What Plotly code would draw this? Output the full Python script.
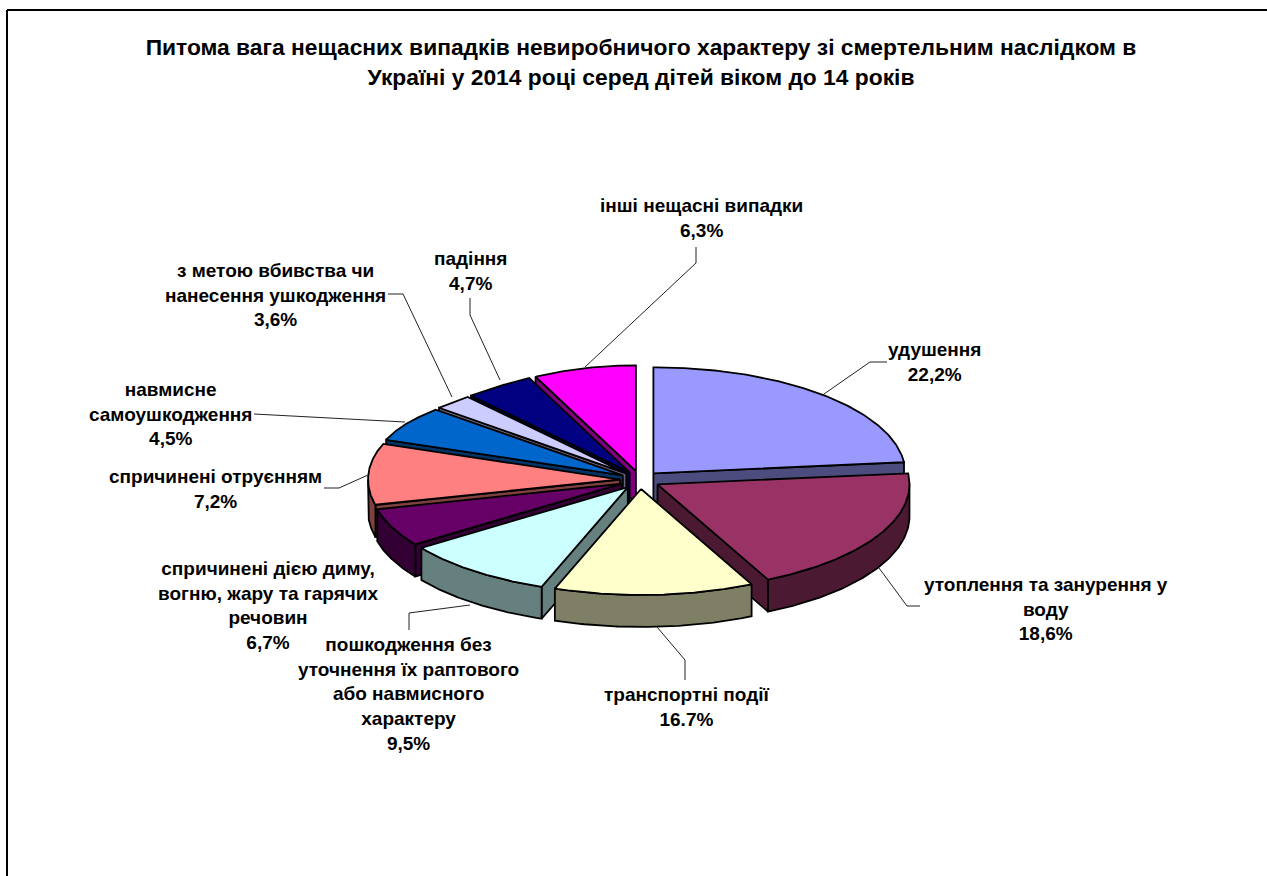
import numpy as np
import plotly.graph_objects as go

CATEGORIES = ["удушення", "утоплення та занурення у воду", "транспортні події",
              "пошкодження без уточнення їх раптового або навмисного характеру",
              "спричинені дією диму, вогню, жару та гарячих речовин",
              "спричинені отруєнням", "навмисне самоушкодження",
              "з метою вбивства чи нанесення ушкодження", "падіння", "інші нещасні випадки"]
VALUES = [22.2, 18.6, 16.7, 9.5, 6.7, 7.2, 4.5, 3.6, 4.7, 6.3]
COLORS = [(153, 153, 255), (153, 51, 102), (255, 255, 204), (204, 255, 255), (102, 0, 102),
          (255, 128, 128), (0, 102, 204), (204, 204, 255), (0, 0, 128), (255, 0, 255)]
TITLE = ("Питома вага нещасних випадків невиробничого характеру зі смертельним наслідком в<br>"
         "Україні у 2014 році серед дітей віком до 14 років")
VALUE_TEXT = ["22,2%", "18,6%", "16.7%", "9,5%", "6,7%", "7,2%", "4,5%", "3,6%", "4,7%", "6,3%"]
LABEL_LINES = [["удушення"], ["утоплення та занурення у", "воду"], ["транспортні події"],
               ["пошкодження без", "уточнення їх раптового", "або навмисного", "характеру"],
               ["спричинені дією диму,", "вогню, жару та гарячих", "речовин"],
               ["спричинені отруєнням"], ["навмисне", "самоушкодження"],
               ["з метою вбивства чи", "нанесення ушкодження"], ["падіння"], ["інші нещасні випадки"]]

# layout: label block centre x, first-line centre y
LABEL_X = [934, 1046, 686, 408, 268, 215, 170, 275, 470, 701]
LABEL_Y = [350, 585, 695, 645, 569, 477, 390, 271, 259, 206]
LEADERS = [[(887, 362), (870, 362), (824, 394)],
           [(879, 568), (907, 606), (920, 606)],
           [(657, 627), (685, 660), (685, 680)],
           [(470, 605), (409, 613), (409, 630)],
           None,
           [(324, 488), (339, 488), (368, 475)],
           [(254, 414), (405, 422)],
           [(388, 294), (403, 294), (452, 397)],
           [(470, 298), (470, 315), (500, 380)],
           [(696, 247), (696, 263), (585, 367)]]

# pie projection
CX, CY = 640, 480
RX, RY = 252, 106
EX, EY = 20, 9
DEPTH = 32
WARP_IN = [0, 79.9, 146.9, 207, 241.2, 265.3, 291.2, 307.4, 320.4, 337.3, 360]
WARP_OUT = [0, 84, 154, 200, 235, 256, 290, 312, 321, 336.5, 360]


def warp(t):
    return np.interp(t, WARP_IN, WARP_OUT)


def rim(ax, ay, ang):
    """Screen position of a rim point; the back-left of the rim sits slightly lower."""
    ry = RY - 8 * np.exp(-((np.asarray(ang) - 315) / 22) ** 2)
    r = np.radians(ang)
    return ax + RX * np.sin(r), ay - ry * np.cos(r)


fig = go.Figure()


def poly(xs, ys, rgb, name):
    fig.add_trace(go.Scatter(x=list(xs), y=list(ys), mode="lines", fill="toself",
                             fillcolor="rgb(%d,%d,%d)" % rgb,
                             line=dict(color="black", width=1.8), name=name,
                             hoverinfo="name", showlegend=False))


edges = np.cumsum([0] + VALUES) / sum(VALUES) * 360
slices = []
for i in range(len(VALUES)):
    a0, a1 = warp(edges[i]), warp(edges[i + 1])
    mid = np.radians((a0 + a1) / 2)
    ax = CX + EX * np.sin(mid)
    ay = CY - EY * np.cos(mid)
    slices.append((abs((a0 + a1) / 2 - 180), i, a0, a1, ax, ay))

for _, i, a0, a1, ax, ay in sorted(slices, reverse=True):
    rgb = COLORS[i]
    dark = tuple(c // 2 for c in rgb)
    name = CATEGORIES[i]
    for ang, visible in ((a0, np.sin(np.radians(a0)) < -1e-6), (a1, np.sin(np.radians(a1)) > 1e-6)):
        if visible:
            px, py = rim(ax, ay, ang)
            poly([ax, px, px, ax, ax], [ay, py, py + DEPTH, ay + DEPTH, ay], dark, name)
    lo, hi = max(a0, 90), min(a1, 270)
    if hi > lo:
        ox, oy = rim(ax, ay, np.linspace(lo, hi, 80))
        poly(np.r_[ox, ox[::-1], ox[0]], np.r_[oy, oy[::-1] + DEPTH, oy[0]], dark, name)
    tx, ty = rim(ax, ay, np.linspace(a0, a1, 120))
    poly(np.r_[ax, tx, ax], np.r_[ay, ty, ay], rgb, name)

for pts in LEADERS:
    if pts:
        fig.add_trace(go.Scatter(x=[p[0] for p in pts], y=[p[1] for p in pts], mode="lines",
                                 line=dict(color="#222222", width=1), hoverinfo="skip", showlegend=False))

FONT = "Liberation Sans, Arial, sans-serif"
annotations = []
for i, lines in enumerate(LABEL_LINES):
    annotations.append(dict(x=LABEL_X[i], y=LABEL_Y[i] - 13, xref="x", yref="y",
                            text="<br>".join(lines + [VALUE_TEXT[i]]), showarrow=False,
                            xanchor="center", yanchor="top", align="center",
                            font=dict(family=FONT, size=19, color="black", weight="bold")))

fig.update_layout(
    width=1267, height=876, margin=dict(l=0, r=0, t=0, b=0),
    paper_bgcolor="white", plot_bgcolor="white", showlegend=False,
    title=dict(text=TITLE, x=641 / 1267, xanchor="center", xref="container",
               y=1 - 55 / 876, yanchor="top", yref="container",
               font=dict(family=FONT, size=22.8, color="black", weight="bold")),
    xaxis=dict(range=[0, 1267], visible=False, fixedrange=True),
    yaxis=dict(range=[876, 0], visible=False, fixedrange=True),
    annotations=annotations,
    shapes=[dict(type="line", xref="x", yref="y", x0=7, x1=7, y0=10, y1=876, line=dict(color="black", width=2)),
            dict(type="line", xref="x", yref="y", x0=7, x1=1267, y0=10, y1=10, line=dict(color="black", width=2))],
)
fig.write_html("out.html", config=dict(displayModeBar=False),
               post_script="document.body.style.margin='0';document.documentElement.style.overflow='hidden';")
